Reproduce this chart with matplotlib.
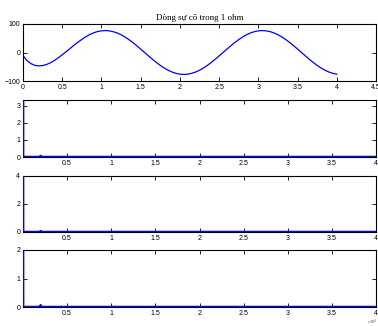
import numpy as np
from matplotlib import pyplot as plt

# fault current in 1 ohm, every 0.05 (t from 0 to 4)
i_fault = [-11, -28, -39, -45, -47, -46, -42, -36, -28, -18.5,
           -8, 3, 14, 25.5, 36, 46, 55, 63, 69, 73.5,
           76, 77, 76, 73, 68.6, 62.3, 54.4, 45.3, 35, 23.8,
           12, 0, -12, -23.8, -35, -45.3, -54.4, -62.3, -68.6, -73.2,
           -76, -77, -76, -73.2, -68.6, -62.3, -54.4, -45.3, -35, -23.8,
           -12, 0, 12, 23.8, 35, 45.3, 54.4, 62.3, 68.6, 73.2,
           76, 77, 76, 73.2, 68.6, 62.3, 54.4, 45.3, 35, 23.8,
           12, 0, -12, -23.8, -35, -45.3, -54.4, -62.3, -68.6, -73.2,
           -76]
t_fault = np.linspace(0, 4, len(i_fault))

# lower panels: spike at t=0, then flat at zero with a tiny blip near 0.2
t_low = [0, 0.001, 0.195, 0.2, 0.205, 4]
v_low = [10, 0, 0, 0.06, 0, 0]

top_yticks = [-100, 0, 100]
low_xticks = [0.5, 1, 1.5, 2, 2.5, 3, 3.5, 4]
low_ylims = [3.35, 4, 2]
low_yticks = [[0, 1, 2, 3], [0, 2, 4], [0, 1, 2]]

plt.rcParams['font.family'] = ['Liberation Sans', 'DejaVu Sans']

fig = plt.figure(figsize=(3.78, 3.26), dpi=100)
W = 353 / 378
L = 23 / 378
pos = [(1 - 81/326, 57/326), (1 - 157/326, 57/326),
       (1 - 232/326, 56/326), (1 - 307/326, 57/326)]


def style(ax):
    ax.tick_params(direction='in', length=3, width=0.6, labelsize=5,
                   top=True, right=True, pad=2)
    for s in ax.spines.values():
        s.set_linewidth(0.8)


ax = fig.add_axes([L, pos[0][0], W, pos[0][1]])
ax.plot(t_fault, i_fault, color='blue', linewidth=0.9)
ax.set_xlim(0, 4.5)
ax.set_ylim(-100, 100)
ax.set_xticks([0, 0.5, 1, 1.5, 2, 2.5, 3, 3.5, 4, 4.5])
ax.set_xticklabels(['0', '0.5', '1', '1.5', '2', '2.5', '3', '3.5', '4', '4.5'])
ax.set_yticks(top_yticks)
ax.set_title('Dòng sự cố trong 1 ohm', fontsize=6.5, family='Liberation Serif', pad=3)
style(ax)

for k in range(3):
    ax = fig.add_axes([L, pos[k+1][0], W, pos[k+1][1]])
    ax.plot(t_low, v_low, color='blue', linewidth=1.8, zorder=3)
    ax.set_xlim(0, 4)
    ax.set_ylim(0, low_ylims[k])
    ax.set_xticks(low_xticks)
    ax.set_xticklabels(['0.5', '1', '1.5', '2', '2.5', '3', '3.5', '4'])
    ax.set_yticks(low_yticks[k])
    style(ax)

fig.text(0.972, -0.004, 'x10$^4$', fontsize=3, ha='left', va='bottom', color='#555555')

fig.savefig('out.png', dpi=100)
